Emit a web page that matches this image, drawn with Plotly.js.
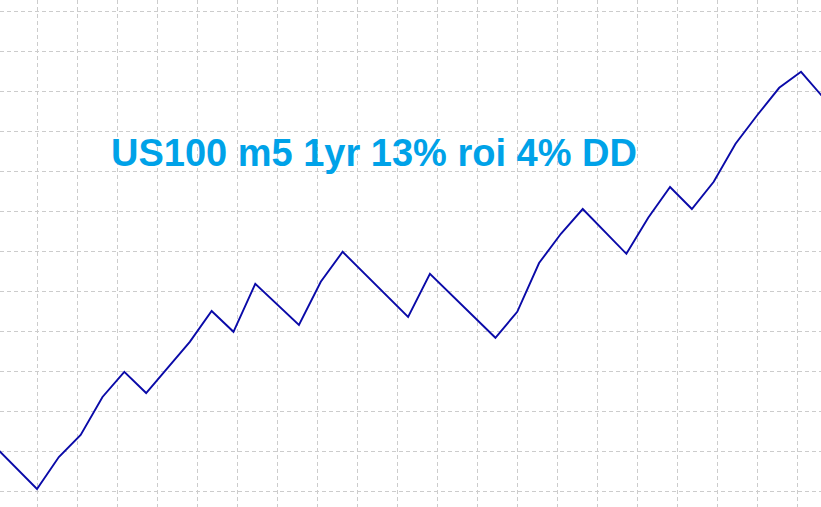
<!DOCTYPE html>
<html>
<head>
<meta charset="utf-8">
<script src="https://cdn.plot.ly/plotly-3.0.1.min.js"></script>
<style>html,body{margin:0;padding:0;background:#fff;}#chart{width:821px;height:507px;}</style>
</head>
<body>
<div id="chart"></div>
<script>
// Trade index and account balance
var tradeIndex = [-2, 0, 1, 2, 3, 4, 5, 6, 7, 8, 9, 10, 12, 13, 14, 17, 18, 21, 22, 23, 24, 25, 27, 28, 29, 30, 31, 32, 33, 34, 35, 36];
var balance = [10115, 10005, 10085, 10140, 10235, 10298, 10245, 10308, 10373, 10450, 10398, 10518, 10415, 10523, 10598, 10435, 10543, 10383, 10448, 10570, 10643, 10705, 10593, 10683, 10760, 10705, 10773, 10868, 10940, 11008, 11048, 10985];
var titleText = "US100 m5 1yr 13% roi 4% DD";

var trace = {
  x: tradeIndex,
  y: balance,
  type: 'scatter',
  mode: 'lines',
  line: {color: '#0a0aa8', width: 1.9},
  hoverinfo: 'skip'
};

var layout = {
  width: 821,
  height: 507,
  margin: {l: 0, r: 0, t: 0, b: 0, pad: 0},
  paper_bgcolor: '#ffffff',
  plot_bgcolor: '#ffffff',
  showlegend: false,
  xaxis: {
    range: [-1.695, 35.915],
    tick0: 0,
    dtick: 1.8324,
    showgrid: true,
    gridcolor: '#cccccc',
    gridwidth: 1,
    griddash: '4px,3px',
    zeroline: false,
    showticklabels: false,
    ticks: '',
    showline: false
  },
  yaxis: {
    range: [9960, 11227.5],
    tick0: 10000,
    dtick: 100,
    showgrid: true,
    gridcolor: '#cccccc',
    gridwidth: 1,
    griddash: '4px,3px',
    zeroline: false,
    showticklabels: false,
    ticks: '',
    showline: false
  },
  annotations: [{
    text: '<b>' + titleText + '</b>',
    xref: 'paper', yref: 'paper',
    x: 0.456, y: 0.699,
    xanchor: 'center', yanchor: 'middle',
    showarrow: false,
    font: {family: 'Liberation Sans, Arial, sans-serif', size: 38, color: '#00a2e8'}
  }]
};

Plotly.newPlot('chart', [trace], layout, {staticPlot: true, displayModeBar: false});
</script>
</body>
</html>
